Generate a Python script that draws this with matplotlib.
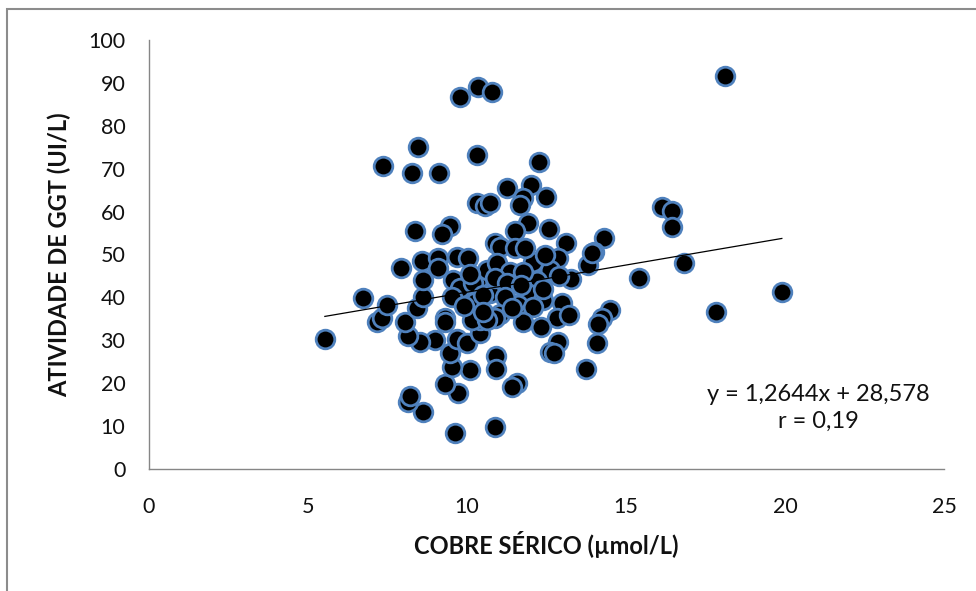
"""Dispersão: cobre sérico vs. atividade de GGT, com reta de regressão."""

import matplotlib
matplotlib.use("Agg")
import matplotlib.pyplot as plt
import numpy as np
from matplotlib.patches import Rectangle

# cobre sérico (µmol/L)
cobre = [
    9.78, 10.35, 10.80, 8.46, 7.35, 8.27, 9.12, 10.33, 12.26, 18.10,
    11.26, 12.00, 11.76, 11.67, 12.48, 10.31, 10.57, 10.72, 8.38, 9.45,
    9.20, 11.92, 11.50, 12.58, 13.10, 14.30, 14.00, 13.80, 16.13, 16.45,
    16.45, 16.82, 15.41, 19.90, 17.83, 14.50, 14.25, 14.12, 14.10, 13.75,
    13.00, 12.83, 13.22, 13.27, 12.86, 12.60, 12.08, 12.20, 11.89, 12.39,
    11.60, 12.08, 11.04, 11.76, 12.33, 12.86, 12.61, 12.75, 11.57, 11.40,
    10.90, 10.90, 10.09, 10.88, 9.62, 8.63, 8.15, 8.22, 9.72, 9.31,
    9.53, 9.47, 9.69, 10.00, 10.41, 8.99, 8.52, 8.14, 8.05, 7.17,
    7.33, 7.48, 6.73, 5.53, 7.92, 8.43, 8.62, 8.62, 8.60, 9.09,
    9.69, 10.03, 9.09, 9.56, 9.78, 10.31, 10.63, 10.88, 9.53, 10.25,
    10.72, 9.31, 10.41, 10.88, 11.04, 11.50, 11.82, 10.94, 11.35, 11.76,
    10.88, 11.26, 13.93, 10.16, 10.63, 10.19, 9.31, 10.50, 11.20, 9.90,
    11.40, 10.10, 11.70, 12.40, 10.50, 12.90, 12.45,
]
# atividade de GGT (UI/L)
ggt = [
    86.7, 89.0, 87.9, 75.0, 70.7, 68.9, 68.9, 73.1, 71.6, 91.6,
    65.5, 66.2, 63.2, 61.5, 63.4, 62.0, 61.3, 62.0, 55.5, 56.7,
    54.8, 57.3, 55.5, 56.0, 52.7, 53.8, 50.6, 47.5, 61.1, 60.1,
    56.4, 48.0, 44.5, 41.3, 36.6, 37.1, 35.2, 33.8, 29.4, 23.2,
    38.8, 35.2, 35.9, 44.4, 49.2, 46.4, 48.3, 43.8, 41.0, 39.4,
    38.2, 37.8, 36.2, 34.3, 33.2, 29.6, 27.3, 27.0, 20.0, 19.2,
    26.4, 23.4, 23.1, 9.7, 8.4, 13.3, 15.7, 17.1, 17.8, 19.7,
    23.8, 27.1, 30.3, 29.4, 31.7, 30.1, 29.5, 31.0, 34.2, 34.3,
    35.2, 38.2, 39.9, 30.3, 46.9, 37.5, 40.1, 44.1, 48.5, 49.2,
    49.4, 49.2, 46.9, 44.1, 42.2, 43.6, 46.4, 52.7, 40.1, 38.9,
    41.0, 35.2, 34.7, 35.2, 51.7, 51.5, 51.5, 48.0, 45.9, 45.9,
    44.5, 43.4, 50.3, 34.7, 34.7, 43.4, 34.3, 40.5, 40.0, 38.0,
    37.5, 45.5, 43.0, 42.0, 36.5, 45.0, 50.0,
]

# reta de regressão ajustada (como no rótulo)
inclinacao = 1.2644
intercepto = 28.578
r = 0.19

fig = plt.figure(figsize=(9.76, 5.91), dpi=100)
ax = fig.add_axes([149 / 976, 1 - 469 / 591, 795 / 976, 429 / 591])

ax.scatter(cobre, ggt, s=180, c="black", edgecolors="#4F81BD",
           linewidths=2.0, zorder=3)

xs = np.array([min(cobre), max(cobre)])
ax.plot(xs, inclinacao * xs + intercepto, color="black", lw=0.9, zorder=4)

ax.set_xlim(0, 25)
ax.set_ylim(0, 100)
ax.set_xticks(np.arange(0, 26, 5))
ax.set_yticks(np.arange(0, 101, 10))

font = "Lato"
ax.tick_params(length=0, labelsize=15.5, colors="#111111")
ax.tick_params(axis="y", pad=17)
ax.tick_params(axis="x", pad=20)
for lab in ax.get_xticklabels() + ax.get_yticklabels():
    lab.set_fontfamily(font)

for side in ("top", "right"):
    ax.spines[side].set_visible(False)
for side in ("left", "bottom"):
    ax.spines[side].set_color("#868686")
    ax.spines[side].set_linewidth(1.0)

ax.set_xlabel("COBRE SÉRICO (µmol/L)", fontsize=17, fontweight="bold",
              family=font, labelpad=10, color="#111111")
ax.set_ylabel("ATIVIDADE DE GGT (UI/L)", fontsize=17, fontweight="bold",
              family=font, labelpad=12, color="#111111")

eq = f"y = {inclinacao:.4f}x + {intercepto:.3f}".replace(".", ",")
ax.text(21.05, 14.3, eq + "\n" + f"r = {r:.2f}".replace(".", ","),
        ha="center", va="center", fontsize=17, family=font,
        linespacing=1.35, color="#111111")

# moldura da área do gráfico
fig.patches.append(Rectangle((7 / 976, -0.1), 1.2, 1 - 9 / 591 + 0.1,
                             transform=fig.transFigure, fill=False,
                             edgecolor="#8c8c8c", lw=1.5))

fig.savefig("out.png", dpi=100)
